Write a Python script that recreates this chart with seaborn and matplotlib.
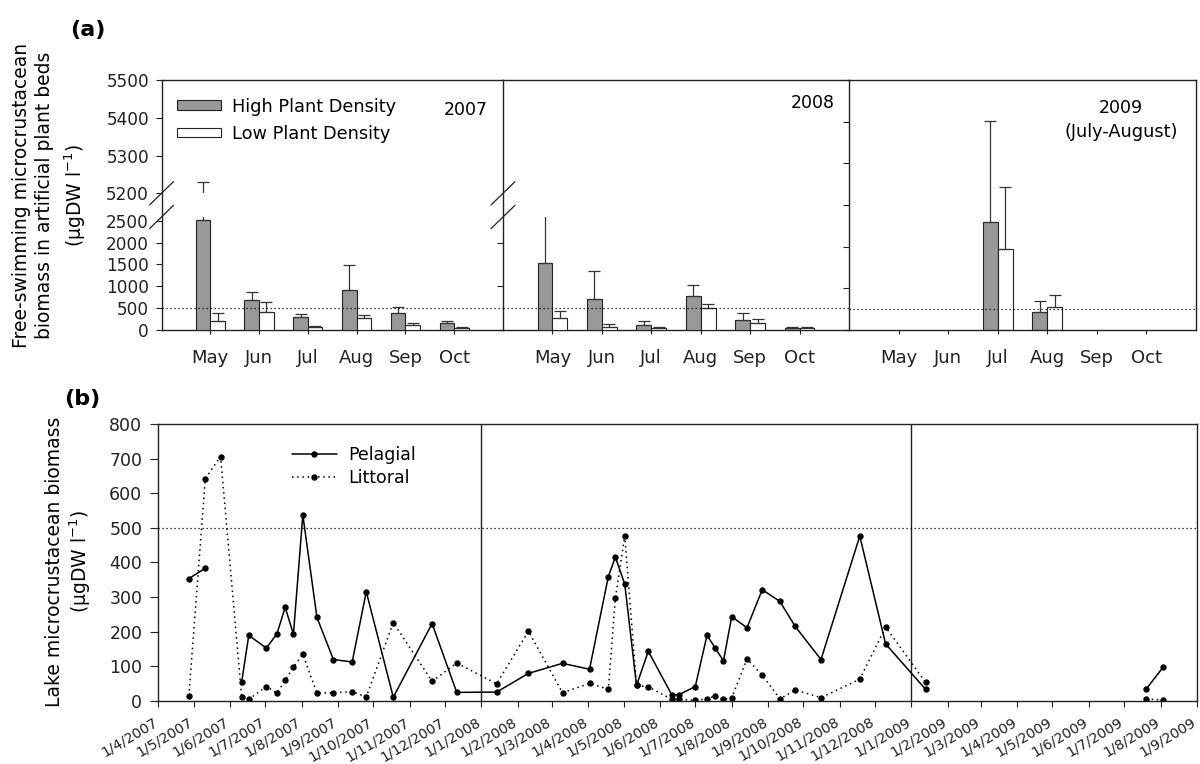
import numpy as np
import pandas as pd
import matplotlib
matplotlib.use("Agg")
import matplotlib.pyplot as plt
import matplotlib.dates as mdates
from matplotlib.lines import Line2D
from matplotlib.patches import Patch
import seaborn as sns

sns.set_theme(style="white")
plt.rcParams["font.family"] = ["DejaVu Sans"]
plt.rcParams["mathtext.fontset"] = "dejavusans"
plt.rcParams["axes.edgecolor"] = "#222222"
plt.rcParams["xtick.color"] = "#222222"
plt.rcParams["ytick.color"] = "#222222"
plt.rcParams["text.color"] = "black"

# ---------------- (a) artificial plant beds: monthly mean and SD ----------------
months = ["May", "Jun", "Jul", "Aug", "Sep", "Oct"]
density_levels = ["High Plant Density", "Low Plant Density"]
nan = np.nan

high_2007 = [2510, 679, 290, 908, 396, 153]
high_2007_sd = [2720, 183, 69, 572, 123, 46]
low_2007 = [213, 419, 62, 268, 107, 53]
low_2007_sd = [169, 214, 30, 68, 46, 22]

high_2008 = [1525, 709, 114, 784, 229, 53]
high_2008_sd = [1095, 647, 85, 245, 153, 9]
low_2008 = [281, 69, 53, 496, 153, 53]
low_2008_sd = [160, 61, 22, 92, 105, 18]

high_2009 = [nan, nan, 2584, 440, nan, nan]
high_2009_sd = [nan, nan, 2424, 256, nan, nan]
low_2009 = [nan, nan, 1936, 560, nan, nan]
low_2009_sd = [nan, nan, 1496, 272, nan, nan]

# ---------------- (b) lake biomass: sampling dates ----------------
dates_main = [
    "2007-04-27", "2007-05-11", "2007-05-24", "2007-06-11", "2007-06-17",
    "2007-07-02", "2007-07-11", "2007-07-18", "2007-07-25", "2007-08-02",
    "2007-08-14", "2007-08-28", "2007-09-13", "2007-09-25", "2007-10-18",
    "2007-11-20", "2007-12-11", "2008-01-14", "2008-02-10", "2008-03-10",
    "2008-04-02", "2008-04-18", "2008-04-24", "2008-05-02", "2008-05-12",
    "2008-05-22", "2008-06-11", "2008-06-17", "2008-07-01", "2008-07-11",
    "2008-07-18", "2008-07-25", "2008-08-01", "2008-08-14", "2008-08-27",
    "2008-09-11", "2008-09-24", "2008-10-16", "2008-11-18", "2008-12-10",
    "2009-01-13",
]
pelagial_main = [
    353, 383, nan, 55, 189, 152, 194, 270, 192, 537,
    241, 119, 112, 315, 10, 223, 24, 25, 79, 108,
    91, 359, 415, 337, 44, 143, 17, 17, 41, 189,
    152, 115, 243, 211, 321, 287, 215, 119, 476, 164,
    33,
]
littoral_main = [
    14, 642, 706, 10, 4, 41, 22, 59, 97, 134,
    22, 23, 26, 11, 226, 56, 109, 49, 201, 23,
    50, 33, 296, 477, 44, 40, 4, 4, 1, 5,
    14, 4, 8, 121, 74, 5, 31, 9, 62, 213,
    53,
]
dates_summer09 = ["2009-07-20", "2009-08-03"]
pelagial_summer09 = [35, 96]
littoral_summer09 = [5, 2]

# ---------------- figure / layout helpers ----------------
W, H = 1200, 764
fig = plt.figure(figsize=(W / 100, H / 100), dpi=100)


def rect(left, top, right, bottom):
    return [left / W, 1 - bottom / H, (right - left) / W, (bottom - top) / H]


A_TOP, A_BOT = 80, 330
LOW_TOP, UP_BOT = 217, 193.3
edges = [161.5, 503, 849, 1196]
LOWER_MAX = 2585
UPPER_LIM = (5200, 5500)
INK = "#222222"
bar_palette = {density_levels[0]: "#999999", density_levels[1]: "white"}
ref_dots = (0, (1, 2.2))


def year_frame(high, high_sd, low, low_sd):
    return pd.DataFrame({
        "month": months * 2,
        "density": [density_levels[0]] * 6 + [density_levels[1]] * 6,
        "biomass": list(high) + list(low),
        "sd": list(high_sd) + list(low_sd),
    })


def draw_bars(ax, df):
    sns.barplot(data=df, x="month", y="biomass", hue="density", order=months,
                hue_order=density_levels, palette=bar_palette, saturation=1,
                width=0.6, edgecolor=INK, linewidth=0.8, errorbar=None,
                legend=False, ax=ax, zorder=2)
    sd_lookup = df.set_index(["month", "density"])["sd"]
    xs, ys, es = [], [], []
    for container in ax.containers:
        for bar in container:
            h = bar.get_height()
            if not np.isfinite(h):
                continue
            cx = bar.get_x() + bar.get_width() / 2
            idx = int(round(cx))
            level = density_levels[0] if cx < idx else density_levels[1]
            xs.append(cx)
            ys.append(h)
            es.append(sd_lookup[(months[idx], level)])
    ax.errorbar(xs, ys, yerr=[np.zeros(len(es)), es], fmt="none",
                ecolor="#333333", elinewidth=0.9, capsize=4, capthick=0.9,
                zorder=3)
    ax.set_xlim(-1, 6)
    ax.set_xlabel("")
    ax.set_ylabel("")


def bare(ax):
    ax.patch.set_alpha(0)
    for s in ax.spines.values():
        s.set_visible(False)


def month_axis(ax):
    ax.set_xticks(range(len(months)))
    ax.set_xticklabels(months)
    ax.tick_params(axis="x", bottom=True, direction="out", length=3,
                   width=0.8, labelsize=13, pad=11, colors=INK)


def break_marks(x_px):
    for y_px in (UP_BOT, LOW_TOP):
        fig.add_artist(Line2D([(x_px - 12) / W, (x_px + 12) / W],
                              [1 - (y_px + 11.7) / H, 1 - (y_px - 11.7) / H],
                              color=INK, lw=0.9))


# ---------------- (a) 2007 and 2008 with broken axis ----------------
year_data = [
    year_frame(high_2007, high_2007_sd, low_2007, low_2007_sd),
    year_frame(high_2008, high_2008_sd, low_2008, low_2008_sd),
]
for k, df in enumerate(year_data):
    x0, x1 = edges[k], edges[k + 1]
    frame = fig.add_axes(rect(x0, A_TOP, x1, A_BOT))
    frame.set_xticks([])
    frame.set_yticks([])
    frame.spines["right"].set_visible(False)
    for s in ("left", "top", "bottom"):
        frame.spines[s].set_linewidth(1.0)
        frame.spines[s].set_color(INK)

    low = fig.add_axes(rect(x0, LOW_TOP, x1, A_BOT))
    up = fig.add_axes(rect(x0, A_TOP, x1, UP_BOT))
    for ax in (low, up):
        bare(ax)
        draw_bars(ax, df)
    low.set_ylim(0, LOWER_MAX)
    up.set_ylim(*UPPER_LIM)
    low.axhline(500, ls=ref_dots, color="black", lw=0.9, zorder=4)
    month_axis(low)
    up.set_xticks([])

    if k == 0:
        low.set_yticks(range(0, 2501, 500))
        up.set_yticks(range(5200, 5501, 100))
        for ax in (low, up):
            ax.tick_params(axis="y", left=True, direction="out", length=4,
                           width=0.8, labelsize=12.2, pad=5, colors=INK)
    else:
        low.set_yticks([0, 1000, 2000])
        low.set_yticklabels([])
        up.set_yticks([])
        low.tick_params(axis="y", left=True, direction="out", length=4,
                        width=0.8, colors=INK)
    break_marks(x0)

# ---------------- (a) 2009 on its own linear scale ----------------
ax9 = fig.add_axes(rect(edges[2], A_TOP, edges[3], A_BOT))
ax9.patch.set_alpha(0)
for s in ax9.spines.values():
    s.set_linewidth(1.0)
    s.set_color(INK)
draw_bars(ax9, year_frame(high_2009, high_2009_sd, low_2009, low_2009_sd))
ax9.set_ylim(0, 6000)
ax9.set_yticks(range(0, 6001, 1000))
ax9.set_yticklabels([])
ax9.tick_params(axis="y", left=True, direction="out", length=4, width=0.8,
                colors=INK)
ax9.axhline(500, ls=ref_dots, color="black", lw=0.9, zorder=4)
month_axis(ax9)

# legend and year captions
leg_a = fig.legend(
    handles=[Patch(facecolor=bar_palette[l], edgecolor=INK, linewidth=0.8)
             for l in density_levels],
    labels=density_levels, loc="upper left",
    bbox_to_anchor=(177 / W, 1 - 97.5 / H), bbox_transform=fig.transFigure,
    frameon=False, fontsize=12.8, handlelength=2.5, handleheight=0.45,
    handletextpad=0.6, labelspacing=0.52, borderpad=0, borderaxespad=0)

fig.text(488 / W, 1 - 110 / H, "2007", ha="right", va="center", fontsize=12.5)
fig.text(835 / W, 1 - 103 / H, "2008", ha="right", va="center", fontsize=12.5)
fig.text(1121 / W, 1 - 108 / H, "2009", ha="center", va="center", fontsize=12.5)
fig.text(1121 / W, 1 - 132 / H, "(July-August)", ha="center", va="center",
         fontsize=12.8)

fig.text(88 / W, 1 - 30 / H, "(a)", ha="center", va="center", fontsize=16,
         fontweight="bold")
for xc, line in [(22, "Free-swimming microcrustacean"),
                 (45, "biomass in artificial plant beds"),
                 (75, r"(μgDW l$^{-1}$)")]:
    fig.text(xc / W, 1 - 195 / H, line, rotation=90, ha="center",
             va="center", fontsize=13.5)

# ---------------- (b) lake pelagial / littoral time series ----------------


def segments(dates, values, start):
    v = np.asarray(values, dtype=float)
    d = pd.DataFrame({
        "date": mdates.date2num(pd.to_datetime(dates).to_pydatetime()),
        "biomass": v,
        "segment": start + np.cumsum(np.isnan(v)),
    })
    return d.dropna()


pelagial = pd.concat([segments(dates_main, pelagial_main, 0),
                      segments(dates_summer09, pelagial_summer09, 100)])
littoral = pd.concat([segments(dates_main, littoral_main, 0),
                      segments(dates_summer09, littoral_summer09, 100)])

axb = fig.add_axes(rect(158.3, 424, 1197, 700.7))
line_kw = dict(x="date", y="biomass", units="segment", estimator=None,
               color="black", linewidth=1.1, marker="o", markersize=4.6,
               markeredgewidth=0, legend=False, sort=False, ax=axb)
sns.lineplot(data=pelagial, linestyle="-", **line_kw)
sns.lineplot(data=littoral, linestyle=(0, (1, 2.4)), **line_kw)

month_starts = pd.date_range("2007-04-01", "2009-09-01", freq="MS")
tick_pos = mdates.date2num(month_starts.to_pydatetime())
axb.set_xlim(tick_pos[0], tick_pos[-1])
axb.set_ylim(0, 800)
axb.set_xticks(tick_pos)
axb.set_xticklabels([f"{d.day}/{d.month}/{d.year}" for d in month_starts],
                    rotation=31, ha="right", va="baseline",
                    rotation_mode="anchor", fontsize=10.2)
axb.set_yticks(range(0, 801, 100))
axb.tick_params(axis="x", bottom=True, direction="out", length=4, width=0.8,
                pad=13, colors=INK)
axb.tick_params(axis="y", left=True, direction="out", length=5.5, width=0.8,
                labelsize=12.5, pad=6, colors=INK)
for s in axb.spines.values():
    s.set_linewidth(1.0)
    s.set_color(INK)
for year_start in ("2008-01-01", "2009-01-01"):
    axb.axvline(mdates.date2num(pd.Timestamp(year_start).to_pydatetime()),
                color=INK, lw=1.0, zorder=1)
axb.axhline(500, ls=ref_dots, color="black", lw=0.9, zorder=1)
axb.set_xlabel("")
axb.set_ylabel("")

axb.legend(
    handles=[Line2D([], [], color="black", lw=1.1, marker="o", ms=4.6,
                    mew=0, ls="-"),
             Line2D([], [], color="black", lw=1.1, marker="o", ms=4.6,
                    mew=0, ls=(0, (1, 2.4)))],
    labels=["Pelagial", "Littoral"], loc="upper left",
    bbox_to_anchor=(291.7 / W, 1 - 446 / H), bbox_transform=fig.transFigure,
    frameon=False, fontsize=12.5, handlelength=2.6, handletextpad=0.67,
    labelspacing=0.27, borderpad=0, borderaxespad=0)

fig.text(82 / W, 1 - 399 / H, "(b)", ha="center", va="center", fontsize=16,
         fontweight="bold")
for xc, line in [(54.5, "Lake microcrustacean biomass"),
                 (80, r"(μgDW l$^{-1}$)")]:
    fig.text(xc / W, 1 - 561.5 / H, line, rotation=90, ha="center",
             va="center", fontsize=13.5)

fig.savefig("out.png", dpi=100, facecolor="white")
